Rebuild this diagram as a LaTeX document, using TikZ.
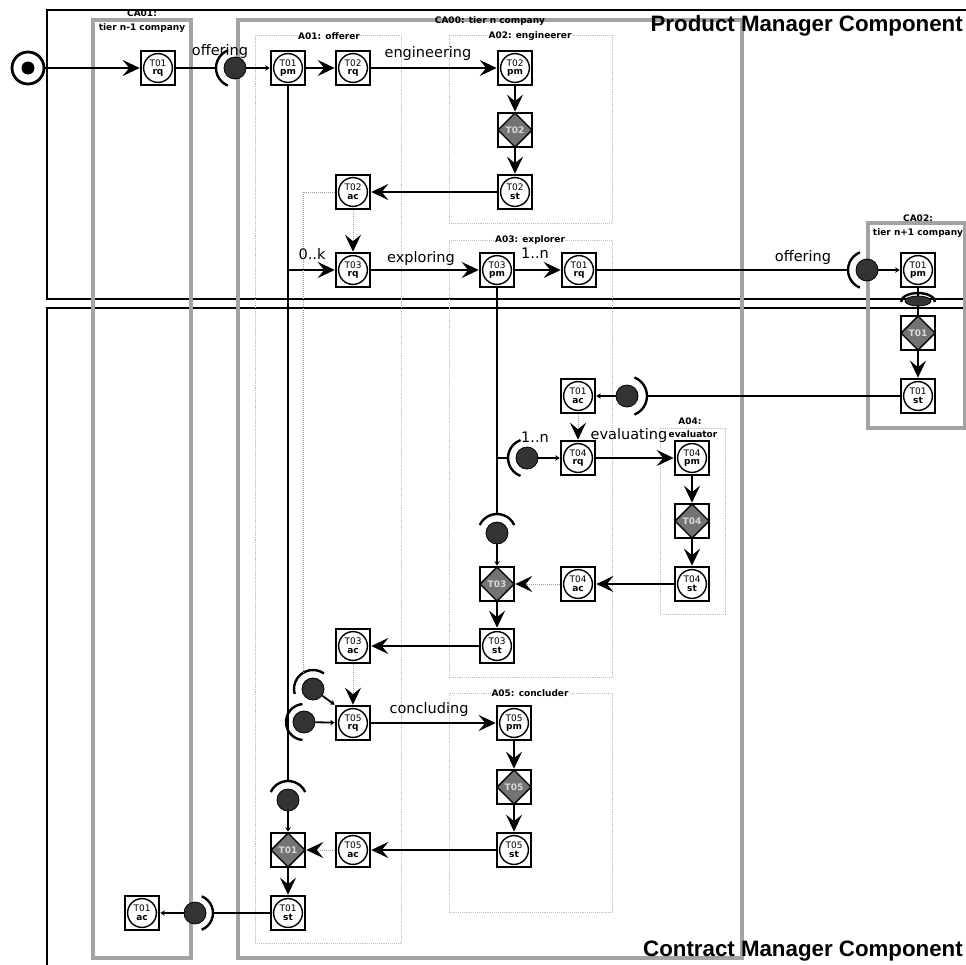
\documentclass[tikz,border=0pt]{standalone}
\usepackage{fontspec}
\setmainfont{DejaVu Sans}
\newfontfamily\arialb{Liberation Sans}
\usetikzlibrary{arrows.meta,calc,shapes.geometric}
\definecolor{cagray}{gray}{0.64}
\definecolor{agray}{gray}{0.74}
\definecolor{dgray}{gray}{0.45}
\definecolor{dotgray}{gray}{0.62}
\definecolor{dotfill}{gray}{0.2}
\newcommand\ifarc[4]{\draw[ifa] (#1.center) ++(#2:#4) arc[start angle=#2, end angle=#3, radius=#4];}
\begin{document}
\begin{tikzpicture}[x=1pt,y=-1pt,
  tx/.style={draw, line width=2.6pt, fill=white, minimum size=34pt, inner sep=0pt, align=center,
    font=\fontsize{9}{8.6}\selectfont,
    path picture={
      \fill (path picture bounding box.north west) -- ++(6.5pt,0) -- ++(-6.5pt,-6.5pt) -- cycle;
      \fill (path picture bounding box.north east) -- ++(-6.5pt,0) -- ++(6.5pt,-6.5pt) -- cycle;
      \fill (path picture bounding box.south west) -- ++(6.5pt,0) -- ++(-6.5pt,6.5pt) -- cycle;
      \fill (path picture bounding box.south east) -- ++(-6.5pt,0) -- ++(6.5pt,6.5pt) -- cycle;
      \draw[line width=1.4pt, fill=white] (path picture bounding box.center) circle[radius=14.4pt];
    }},
  ex/.style={draw, line width=2.6pt, fill=white, minimum size=34pt, inner sep=0pt,
    font=\bfseries\fontsize{9}{9}\selectfont, text=white!85!black,
    path picture={
      \fill (path picture bounding box.north west) -- ++(6.5pt,0) -- ++(-6.5pt,-6.5pt) -- cycle;
      \fill (path picture bounding box.north east) -- ++(-6.5pt,0) -- ++(6.5pt,-6.5pt) -- cycle;
      \fill (path picture bounding box.south west) -- ++(6.5pt,0) -- ++(-6.5pt,6.5pt) -- cycle;
      \fill (path picture bounding box.south east) -- ++(-6.5pt,0) -- ++(6.5pt,6.5pt) -- cycle;
      \draw[line width=1.4pt, fill=dgray] (path picture bounding box.north) -- (path picture bounding box.east)
        -- (path picture bounding box.south) -- (path picture bounding box.west) -- cycle;
    }},
  ifd/.style={circle, fill=dotfill, draw=black, line width=0.8pt, minimum size=22pt, inner sep=0pt},
  ifa/.style={line width=2.4pt},
  ln/.style={line width=2.2pt},
  arr/.style={line width=2.2pt, -{Stealth[length=17pt,width=16pt,inset=6.5pt]}},
  lnk/.style={line width=1.8pt, -{Stealth[length=4.5pt,width=5.5pt]}},
  dotl/.style={draw=dotgray, line width=1pt, densely dotted, -{Stealth[length=17pt,width=16pt,inset=6.5pt,color=black]}},
  dotp/.style={draw=dotgray, line width=1pt, densely dotted},
  cab/.style={draw=cagray, line width=3.8pt},
  ab/.style={draw=agray, line width=0.9pt, densely dotted},
  lab/.style={font=\bfseries\fontsize{9}{10}\selectfont, inner sep=0.5pt},
  clab/.style={font=\fontsize{14.5}{16}\selectfont, inner sep=0pt},
  big/.style={font=\arialb\bfseries\fontsize{22.3}{24}\selectfont, inner sep=0pt}
]
\useasboundingbox (0,0) rectangle (966,964);
\begin{scope}
\clip (0,0) rectangle (966,964);
% component boxes
\draw[line width=2.2pt] (47,10) rectangle (1000,299);
\draw[line width=2.2pt] (47,308) rectangle (1000,1000);
% company boxes
\draw[cab] (93,20) rectangle (191,958);
\draw[cab] (238,20) rectangle (742,958);
\draw[cab] (868,223) rectangle (965,428);
% actor boxes
\draw[ab] (255,35) rectangle (401,943);
\draw[ab] (449,35) rectangle (612,223);
\draw[ab] (449,240) rectangle (612,677);
\draw[ab] (660,428) rectangle (725,614);
\draw[ab] (449,693) rectangle (612,912);

% titles
\node[big, anchor=east] (pmc) at (963,26) {Product Manager Component};
\node[big, anchor=east] (cmc) at (963,951) {Contract Manager Component};

% box labels
\node[lab] (ca01a) at (142,13) {CA01:};
\node[lab] (ca01b) at (142,28) {tier n-1 company};
\node[lab] (ca00) at (490,21) {CA00: tier n company};
\node[lab] (ca02a) at (918,218) {CA02:};
\node[lab] (ca02b) at (918,233) {tier n+1 company};
\node[lab, fill=white] (a01) at (329,36) {A01: offerer};
\node[lab, fill=white] (a02) at (530,36) {A02: engineerer};
\node[lab, fill=white] (a03) at (530,240) {A03: explorer};
\node[lab] (a04a) at (690,421) {A04:};
\node[lab] (a04b) at (693,434) {evaluator};
\node[lab, fill=white] (a05) at (530,693) {A05: concluder};

% start
\node[circle, draw, line width=2.8pt, fill=white, minimum size=32pt, inner sep=0pt] (start) at (28,68) {};
\fill (start.center) circle[radius=6.5pt];

% transaction nodes
\node[tx] (ca1rq) at (158,68) {T01\\\textbf{rq}};
\node[ifd] (i1) at (235,68) {};
\node[tx] (a1pm) at (288,68) {T01\\\textbf{pm}};
\node[tx] (t2rq) at (353,68) {T02\\\textbf{rq}};
\node[tx] (t2pm) at (515,68) {T02\\\textbf{pm}};
\node[ex] (t2ex) at (515,130) {T02};
\node[tx] (t2st) at (515,192) {T02\\\textbf{st}};
\node[tx] (t2ac) at (353,192) {T02\\\textbf{ac}};
\node[tx] (t3rq) at (353,270) {T03\\\textbf{rq}};
\node[tx] (t3pm) at (497,270) {T03\\\textbf{pm}};
\node[tx] (b1rq) at (579,270) {T01\\\textbf{rq}};
\node[ifd] (i2) at (867,270) {};
\node[tx] (c2pm) at (918,270) {T01\\\textbf{pm}};
\node[ex] (c2ex) at (918,333) {T01};
\node[tx] (c2st) at (918,396) {T01\\\textbf{st}};
\node[ifd] (i3) at (627,396) {};
\node[tx] (b1ac) at (578,396) {T01\\\textbf{ac}};
\node[ifd] (i4) at (527,458) {};
\node[tx] (t4rq) at (578,458) {T04\\\textbf{rq}};
\node[tx] (t4pm) at (692,458) {T04\\\textbf{pm}};
\node[ex] (t4ex) at (692,521) {T04};
\node[tx] (t4st) at (692,584) {T04\\\textbf{st}};
\node[tx] (t4ac) at (578,584) {T04\\\textbf{ac}};
\node[ex] (t3ex) at (497,584) {T03};
\node[ifd] (i5) at (497,533) {};
\node[tx] (t3st) at (497,646) {T03\\\textbf{st}};
\node[tx] (t3ac) at (353,646) {T03\\\textbf{ac}};
\node[tx] (t5rq) at (353,723) {T05\\\textbf{rq}};
\node[ifd] (i6) at (313,689) {};
\node[ifd] (i7) at (304,722) {};
\node[tx] (t5pm) at (514,723) {T05\\\textbf{pm}};
\node[ex] (t5ex) at (514,787) {T05};
\node[tx] (t5st) at (514,850) {T05\\\textbf{st}};
\node[tx] (t5ac) at (353,850) {T05\\\textbf{ac}};
\node[ex] (a1ex) at (288,850) {T01};
\node[ifd] (i8) at (288,800) {};
\node[tx] (a1st) at (288,913) {T01\\\textbf{st}};
\node[ifd] (i9) at (195,913) {};
\node[tx] (ca1ac) at (142,913) {T01\\\textbf{ac}};

% interface arcs
\ifarc{i1}{112}{248}{19pt}
\ifarc{i2}{112}{248}{19pt}
\ifarc{i3}{-68}{68}{20pt}
\ifarc{i4}{110}{250}{19pt}
\ifarc{i5}{25}{155}{19pt}
\ifarc{i6}{55}{195}{19pt}
\ifarc{i7}{95}{265}{18pt}
\ifarc{i8}{25}{155}{19pt}
\ifarc{i9}{-68}{68}{18pt}
\coordinate (i1w) at ([xshift=-19pt]i1.center);
\coordinate (i2w) at ([xshift=-19pt]i2.center);
\coordinate (i3e) at ([xshift=20pt]i3.center);
\coordinate (i4w) at ([xshift=-19pt]i4.center);
\coordinate (i5n) at ([yshift=19pt]i5.center);
\coordinate (i6n) at (303,673);
\coordinate (i8n) at ([yshift=19pt]i8.center);
\coordinate (i9e) at ([xshift=18pt]i9.center);

% oval interface (CA02)
\node[ellipse, fill=dotfill, draw=black, line width=0.8pt, minimum width=26pt, minimum height=10pt, inner sep=0pt] (ov) at (918,301) {};
\draw[ifa] (ov.center) ++(17pt,-1pt) arc[start angle=0, end angle=180, x radius=17pt, y radius=9pt];

% connectors
\draw[arr] (start) -- (ca1rq);
\draw[ln] (ca1rq) -- (i1w);
\draw[lnk] (i1) -- (a1pm);
\draw[arr] (a1pm) -- (t2rq);
\draw[arr] (t2rq) -- (t2pm);
\draw[arr] (t2pm) -- (t2ex);
\draw[arr] (t2ex) -- (t2st);
\draw[arr] (t2st) -- (t2ac);
\draw[dotl] (t2ac) -- (t3rq);
\draw[ln] (a1pm.south) -- (i8n);
\draw[arr] (a1pm.south |- t3rq.west) -- (t3rq.west);
\draw[arr] (t3rq) -- (t3pm);
\draw[arr] (t3pm) -- (b1rq);
\draw[ln] (b1rq) -- (i2w);
\draw[lnk] (i2) -- (c2pm);
\draw[ln] (c2pm) -- (ov);
\draw[ln] (ov) -- (c2ex);
\draw[arr] (c2ex) -- (c2st);
\draw[ln] (c2st) -- (i3e);
\draw[lnk] (i3) -- (b1ac);
\draw[dotl] (b1ac) -- (t4rq);
\draw[ln] (t3pm.south) -- (i5n);
\draw[ln] (t3pm.south |- i4w) -- (i4w);
\draw[lnk] (i4) -- (t4rq);
\draw[arr] (t4rq) -- (t4pm);
\draw[arr] (t4pm) -- (t4ex);
\draw[arr] (t4ex) -- (t4st);
\draw[arr] (t4st) -- (t4ac);
\draw[dotl] (t4ac) -- (t3ex);
\draw[lnk] (i5) -- (t3ex);
\draw[arr] (t3ex) -- (t3st);
\draw[arr] (t3st) -- (t3ac);
\draw[dotl] (t3ac) -- (t5rq);
\draw[dotp] (t2ac.west) -| (i6n);
\draw[lnk] (i6) -- (t5rq.north west);
\draw[lnk] (i7) -- (t5rq);
\draw[arr] (t5rq) -- (t5pm);
\draw[arr] (t5pm) -- (t5ex);
\draw[arr] (t5ex) -- (t5st);
\draw[arr] (t5st) -- (t5ac);
\draw[dotl] (t5ac) -- (a1ex);
\draw[lnk] (i8) -- (a1ex);
\draw[arr] (a1ex) -- (a1st);
\draw[ln] (a1st) -- (i9e);
\draw[lnk] (i9) -- (ca1ac);

% connector labels
\node[clab] (loff1) at (220,51) {offering};
\node[clab] (leng) at (428,53) {engineering};
\node[clab] (l0k) at (312,254) {0..k};
\node[clab] (lexp) at (421,258) {exploring};
\node[clab] (l1n) at (535,253) {1..n};
\node[clab] (loff2) at (803,257) {offering};
\node[clab] (l1n2) at (535,437) {1..n};
\node[clab] (leva) at (629,435) {evaluating};
\node[clab] (lcon) at (429,709) {concluding};
\end{scope}
\end{tikzpicture}
\end{document}
